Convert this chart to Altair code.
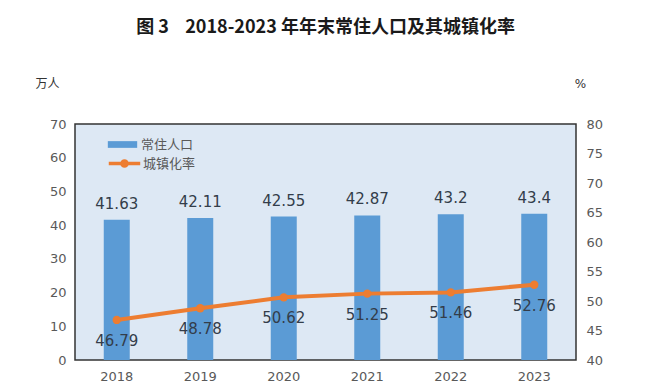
import altair as alt
import pandas as pd

years = ["2018", "2019", "2020", "2021", "2022", "2023"]
population = [41.63, 42.11, 42.55, 42.87, 43.2, 43.4]
urban_rate = [46.79, 48.78, 50.62, 51.25, 51.46, 52.76]
pop_name = "常住人口"
rate_name = "城镇化率"
title_text = "图 3\u00a0\u00a0\u00a0\u00a02018-2023 年年末常住人口及其城镇化率"

df = pd.DataFrame({
    "year": years,
    "pop": population,
    "rate": urban_rate,
    "s1": [pop_name] * len(years),
    "s2": [rate_name] * len(years),
})

BLUE = "#5b9bd5"
ORANGE = "#ed7d31"
GREY = "#595959"
TEXT = "#333d4a"
LABEL_FONT = "DejaVu Sans"
CJK = "Noto Sans CJK SC"

x = alt.X("year:N", title=None,
          scale=alt.Scale(paddingInner=0, paddingOuter=0),
          axis=alt.Axis(labelAngle=0, ticks=False, domain=False, labelPadding=10,
                        labelFont=LABEL_FONT, labelFontSize=13, labelColor=GREY))

left_axis = alt.Axis(values=list(range(0, 71, 10)), grid=False, ticks=False, domain=False,
                     labelOverlap=False,
                     labelPadding=9, labelFont=LABEL_FONT, labelFontSize=13, labelColor=GREY,
                     titleAngle=0, titleX=-28, titleY=-41, titleAlign="center",
                     titleBaseline="middle", titleFont=CJK, titleFontSize=12,
                     titleFontWeight="normal", titleColor="#333333")
right_axis = alt.Axis(orient="right", values=list(range(40, 81, 5)), grid=False, ticks=False,
                      labelOverlap=False,
                      domain=False, labelPadding=10, labelFont=LABEL_FONT, labelFontSize=13,
                      labelColor=GREY, titleAngle=0, titleX=4, titleY=-41, titleAlign="center",
                      titleBaseline="middle", titleFont=LABEL_FONT, titleFontSize=12,
                      titleFontWeight="normal", titleColor="#333333")

y_left = alt.Y("pop:Q", title="万人", scale=alt.Scale(domain=[0, 70]), axis=left_axis)
y_right = alt.Y("rate:Q", title="%", scale=alt.Scale(domain=[40, 80]), axis=right_axis)

base = alt.Chart(df)

bars = base.mark_bar(size=26).encode(
    x=x,
    y=y_left,
    color=alt.Color("s1:N", scale=alt.Scale(range=[BLUE]),
                    legend=alt.Legend(title=None, orient="none", legendX=37, legendY=10,
                                      symbolType="M-1.4,-0.32H1.4V0.32H-1.4Z",
                                      symbolSize=440, symbolStrokeWidth=0,
                                      labelFont=CJK, labelFontSize=13, labelColor=GREY,
                                      padding=0, labelOffset=8)),
)

bar_text = base.mark_text(dy=-16, font=LABEL_FONT, fontSize=15, color=TEXT).encode(
    x=x,
    y=y_left,
    text=alt.Text("pop:Q", format=".4~g"),
)

line = base.mark_line(strokeWidth=4, point=alt.OverlayMarkDef(size=70, filled=True, color=ORANGE)).encode(
    x=x,
    y=y_right,
    color=alt.Color("s2:N", scale=alt.Scale(range=[ORANGE]),
                    legend=alt.Legend(title=None, orient="none", legendX=37, legendY=27,
                                      symbolType="M-1.5,0H1.5M0.25,0A0.25,0.25 0 1,1 -0.25,0A0.25,0.25 0 1,1 0.25,0Z",
                                      symbolSize=440, symbolStrokeWidth=3.5,
                                      symbolFillColor=ORANGE, symbolStrokeColor=ORANGE,
                                      labelFont=CJK, labelFontSize=13, labelColor=GREY,
                                      padding=0, labelOffset=6)),
)

line_text = base.mark_text(dy=21, font=LABEL_FONT, fontSize=15, color=TEXT).encode(
    x=x,
    y=y_right,
    text=alt.Text("rate:Q", format=".2f"),
)

left = alt.layer(bars, bar_text)
right = alt.layer(line, line_text)

chart = alt.layer(left, right).resolve_scale(
    y="independent", color="independent"
).properties(
    width=501, height=236,
    background="white",
    autosize=alt.AutoSizeParams(type="none"),
    padding={"left": 67, "top": 116, "right": 70, "bottom": 30},
    title=alt.TitleParams(title_text, font=CJK, fontSize=18, fontWeight="bold",
                          color="#1a1a1a", anchor="middle", offset=40),
).configure_view(
    fill="#dde8f4", stroke="#333333", strokeWidth=1.5
)

chart.save("out.html", embed_options={"renderer": "svg", "actions": False})
